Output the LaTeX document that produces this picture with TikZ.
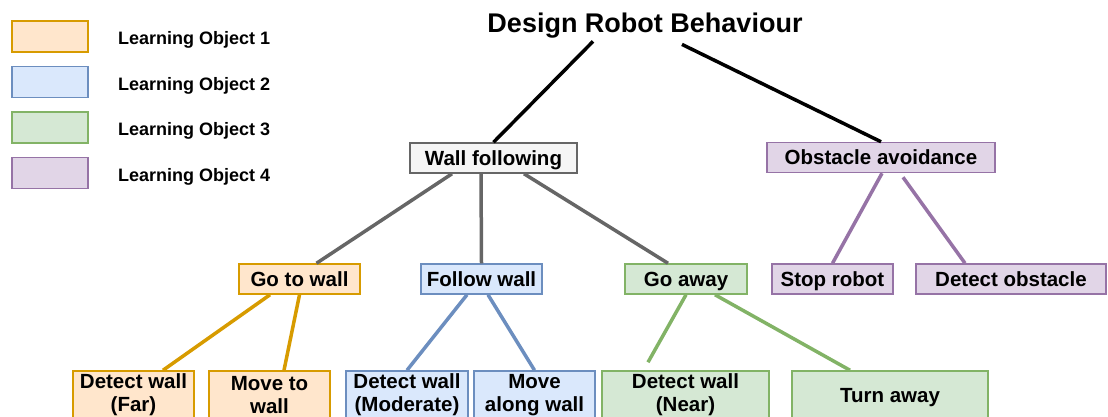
\documentclass[tikz,border=0pt]{standalone}
\usepackage{fontspec}
\setmainfont{Liberation Sans}

\definecolor{lofill1}{HTML}{FFE6CC}
\definecolor{loline1}{HTML}{D79B00}
\definecolor{lofill2}{HTML}{DAE8FC}
\definecolor{loline2}{HTML}{6C8EBF}
\definecolor{lofill3}{HTML}{D5E8D4}
\definecolor{loline3}{HTML}{82B366}
\definecolor{lofill4}{HTML}{E1D5E7}
\definecolor{loline4}{HTML}{9673A6}
\definecolor{wallfill}{HTML}{F5F5F5}
\definecolor{wallline}{HTML}{666666}

\begin{document}
\begin{tikzpicture}[
        x=1pt, y=-1pt,
        textbox/.style={draw, line width=1.5pt, inner sep=0pt, align=center,
            font=\fontsize{20.5}{23}\selectfont\bfseries},
        box/.style={textbox, minimum height=30pt, text height=14.7pt, text depth=0pt},
        leaf/.style={textbox, minimum height=48pt},
        legendbox/.style={draw, line width=1.5pt, inner sep=0pt,
            minimum width=76pt, minimum height=31pt},
        legendtext/.style={anchor=base west, inner sep=0pt,
            font=\fontsize{18}{20}\selectfont\bfseries},
        link/.style={line width=3.5pt}
    ]
    \useasboundingbox (0,0) rectangle (1108,416);

    % legend
    \foreach \i in {1,...,4} {
        \node [legendbox, fill=lofill\i, draw=loline\i] (key\i) at (50,{36.5+45.5*(\i-1)}) {};
        \node [legendtext] (keylabel\i) at (118,{44.5+45.5*(\i-1)}) {Learning Object \i};
    }

    \node [anchor=base, inner sep=0pt, font=\fontsize{27}{30}\selectfont\bfseries] (root) at (645,32.5)
        {Design Robot Behaviour};

    \node [box, minimum width=167pt, fill=wallfill, draw=wallline] (wall) at (493.5,158) {Wall following};
    \node [box, minimum width=228pt, fill=lofill4, draw=loline4] (obst) at (881,157.5) {Obstacle avoidance};

    \node [box, minimum width=121pt, fill=lofill1, draw=loline1] (gotowall) at (299.5,279) {Go to wall};
    \node [box, minimum width=121pt, fill=lofill2, draw=loline2] (followwall) at (481.5,279) {Follow wall};
    \node [box, minimum width=122pt, fill=lofill3, draw=loline3] (goaway) at (686,279) {Go away};
    \node [box, minimum width=121pt, fill=lofill4, draw=loline4] (stop) at (832.5,279) {Stop robot};
    \node [box, minimum width=190pt, fill=lofill4, draw=loline4] (detectobst) at (1011,279) {Detect obstacle};

    \node [leaf, minimum width=121pt, fill=lofill1, draw=loline1] (far) at (133.5,395) {Detect wall\\(Far)};
    \node [leaf, minimum width=121pt, fill=lofill1, draw=loline1] (moveto) at (269.5,395) {Move to\\wall};
    \node [leaf, minimum width=122pt, fill=lofill2, draw=loline2] (moderate) at (407,395) {Detect wall\\(Moderate)};
    \node [leaf, minimum width=121pt, fill=lofill2, draw=loline2] (along) at (534.5,395) {Move\\along wall};
    \node [leaf, minimum width=167pt, fill=lofill3, draw=loline3] (near) at (685.5,395) {Detect wall\\(Near)};
    \node [box, minimum height=48pt, minimum width=196pt, fill=lofill3, draw=loline3] (turn) at (890,395) {Turn away};

    % top level
    \draw [link] ([xshift=-52pt,yshift=-3pt]root.south) -- (wall.north);
    \draw [link] ([xshift=37pt,yshift=-6pt]root.south) -- (obst.north);

    \draw [link, wallline] ([xshift=-41.5pt]wall.south) -- ([xshift=17pt]gotowall.north);
    \draw [link, wallline] ([xshift=-12.5pt]wall.south) -- (followwall.north);
    \draw [link, wallline] ([xshift=30.5pt]wall.south) -- ([xshift=-18pt]goaway.north);

    \draw [link, loline1] ([xshift=-29.5pt]gotowall.south) -- ([xshift=29.5pt]far.north);
    \draw [link, loline1] (gotowall.south) -- ([xshift=14.5pt]moveto.north);
    \draw [link, loline2] ([xshift=-14.5pt]followwall.south) -- (moderate.north);
    \draw [link, loline2] ([xshift=6.5pt]followwall.south) -- (along.north);
    \draw [link, loline3] (goaway.south) -- ([xshift=-37.5pt,yshift=8pt]near.north);
    \draw [link, loline3] ([xshift=29pt]goaway.south) -- ([xshift=-40pt]turn.north);

    \draw [link, loline4] ([xshift=1pt]obst.south) -- (stop.north);
    \draw [link, loline4] ([xshift=22pt,yshift=-4pt]obst.south) -- ([xshift=-46pt]detectobst.north);
\end{tikzpicture}
\end{document}
